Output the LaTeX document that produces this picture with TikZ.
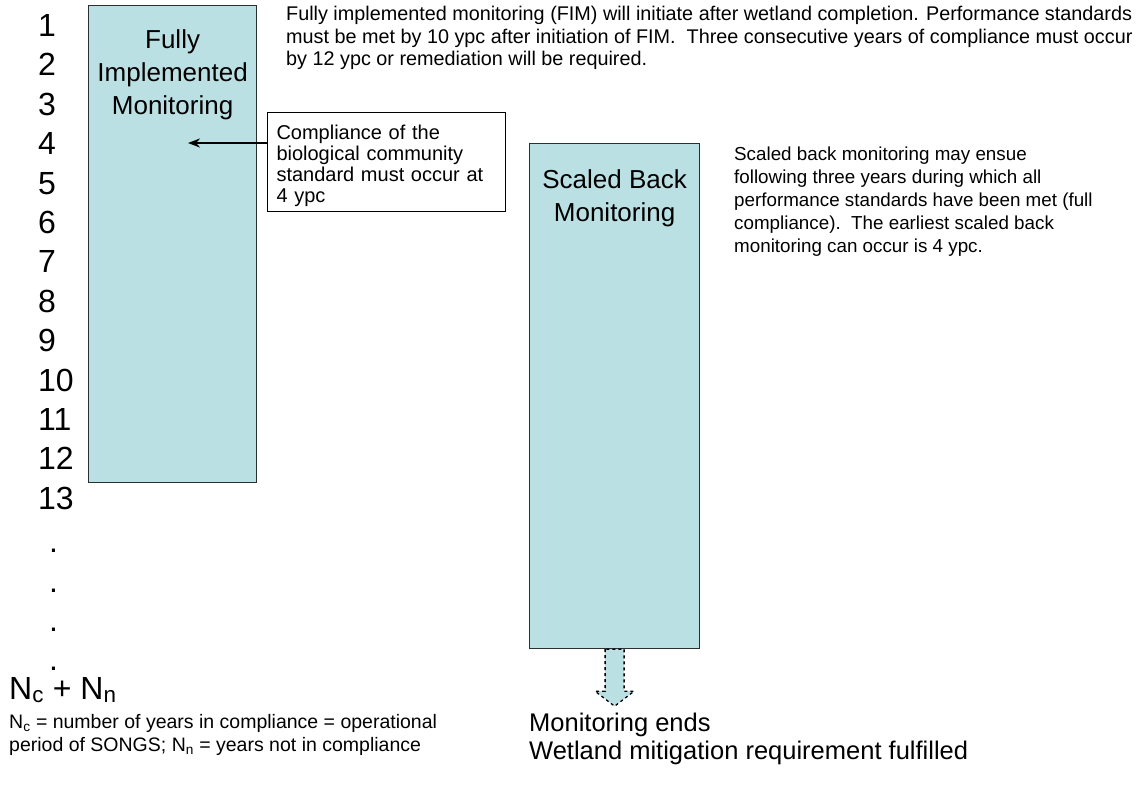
\documentclass[tikz,border=0pt]{standalone}
\usepackage{fontspec}
\setmainfont{Liberation Sans}
\usetikzlibrary{positioning,arrows.meta}

\definecolor{boxfill}{RGB}{187,224,227}
\definecolor{boxline}{RGB}{40,48,50}
\newcommand{\fsz}[2]{\fontsize{#1}{#2}\selectfont}

\tikzset{
  monbox/.style={draw=boxline, fill=boxfill, line width=1.2pt, inner sep=0pt},
  boxtitle/.style={align=center, inner sep=0pt, font=\fsz{26}{33}},
  yearnum/.style={anchor=base west, inner sep=0pt, font=\fsz{32}{36}},
  note/.style={align=left, inner sep=0pt, anchor=north west, font=\fsz{19.8}{22.5}},
  notebox/.style={draw=black, line width=1pt, align=left, text width=220pt,
    inner xsep=9pt, minimum width=238pt, minimum height=99pt, font=\fsz{20}{21}}
}

\begin{document}
\begin{tikzpicture}[x=1pt, y=-1pt]
\useasboundingbox (0,0) rectangle (1138,785);

% year column
\foreach \n in {1,...,13}
  \node[yearnum] (y\n) at (38,{36.5+(\n-1)*39.4}) {\n};
\foreach \n in {14,...,17}
  \node[yearnum] (y\n) at (49,{40.5+(\n-1)*39.4}) {.};

% the two monitoring phases
\node[monbox, anchor=north west, minimum width=168pt, minimum height=477pt] (fim) at (88,5) {};
\node[boxtitle, anchor=north] (fimtitle) at ([yshift=-24]fim.north) {Fully\\Implemented\\Monitoring};
\node[monbox, anchor=north west, minimum width=170pt, minimum height=505pt] (sbm) at (529,143) {};
\node[boxtitle, anchor=north] (sbmtitle) at ([yshift=-26]sbm.north) {Scaled Back\\Monitoring};

% compliance note and arrow
\node[notebox, anchor=north west] (comp) at (267,112)
  {\rule{0pt}{22pt}Compliance of the\\biological community\\standard must occur at\\4 ypc};
\coordinate (c4) at (188,143);
\draw[line width=2pt, -{Stealth[length=12pt, width=9pt]}] (comp.west |- c4) -- (c4);

% end of monitoring
\draw[dashed, line width=1.3pt, fill=boxfill] ([xshift=-9.5]sbm.south) -- ++(0,42) -- ++(-10,0)
  -- ++(19.5,15) -- ++(19.5,-15) -- ++(-10,0) -- ++(0,-42) -- cycle;

% texts
\node[note] (fimnote) at (286,6)
  {Fully implemented monitoring (FIM) will initiate after wetland completion. Performance standards\\
   must be met by 10 ypc after initiation of FIM.\ \ Three consecutive years of compliance must occur\\
   by 12 ypc or remediation will be required.};
\node[note, font=\fsz{18.8}{23}] (sbmnote) at (734,147)
  {Scaled back monitoring may ensue\\following three years during which all\\
   performance standards have been met (full\\compliance).\ \ The earliest scaled back\\
   monitoring can occur is 4 ypc.};
\node[note, font=\fsz{25.5}{28}] (ends) at (529,713)
  {Monitoring ends\\Wetland mitigation requirement fulfilled};
\node[note, font=\fsz{32}{32}] (total) at (9,677) {N\textsubscript{c} + N\textsubscript{n}};
\node[note, font=\fsz{19.5}{23}] (legend) at (9,714)
  {N\textsubscript{c} = number of years in compliance = operational\\
   period of SONGS; N\textsubscript{n} = years not in compliance};
\end{tikzpicture}
\end{document}
